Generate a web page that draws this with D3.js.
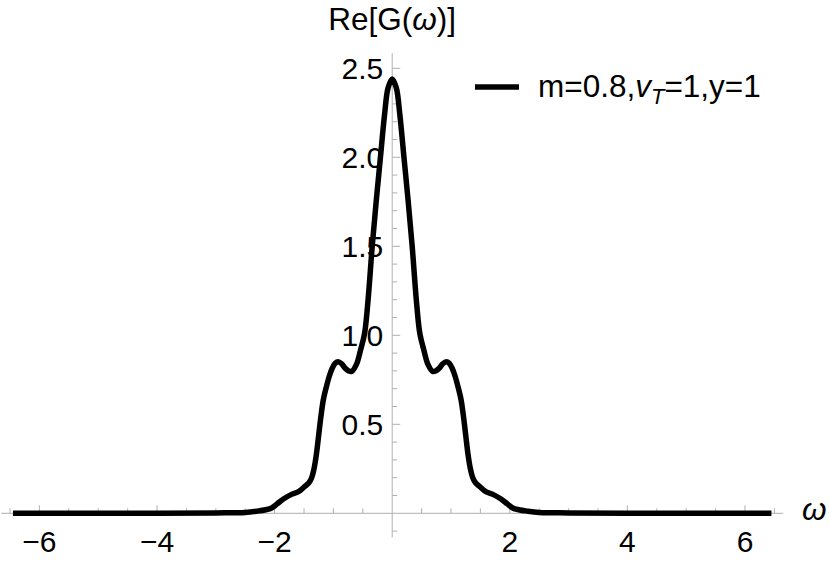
<!DOCTYPE html>
<html>
<head>
<meta charset="utf-8">
<script src="https://cdn.jsdelivr.net/npm/d3@7"></script>
<style>
  body { margin: 0; background: #fff; }
  svg { display: block; font-family: "Liberation Sans", Arial, sans-serif; }
</style>
</head>
<body>
<div id="chart"></div>
<script>
// omega values and Re[G(omega)]
const omega = [-6.45, -4.0, -3.0, -2.5, -2.3, -2.15, -2.05, -1.95, -1.85, -1.72, -1.6, -1.49, -1.42, -1.37,
  -1.33, -1.29, -1.25, -1.21, -1.17, -1.12, -1.07, -1.02, -0.97, -0.92, -0.86, -0.8, -0.74, -0.69, -0.61,
  -0.54, -0.47, -0.41, -0.34, -0.27, -0.2, -0.13, -0.07, 0,
  0.07, 0.13, 0.2, 0.27, 0.34, 0.41, 0.47, 0.54, 0.61, 0.69, 0.74, 0.8, 0.86, 0.92, 0.97, 1.02, 1.07,
  1.12, 1.17, 1.21, 1.25, 1.29, 1.33, 1.37, 1.42, 1.49, 1.6, 1.72, 1.85, 1.95, 2.05, 2.15, 2.3,
  2.5, 3.0, 4.0, 6.45];
const reG = [0, 0, 0.002, 0.005, 0.012, 0.02, 0.03, 0.055, 0.08, 0.105, 0.12, 0.15, 0.17, 0.2,
  0.25, 0.33, 0.44, 0.55, 0.64, 0.71, 0.77, 0.815, 0.843, 0.852, 0.84, 0.815, 0.8, 0.797, 0.835,
  0.915, 1.01, 1.2, 1.5, 1.76, 2.0, 2.24, 2.39, 2.44,
  2.39, 2.24, 2.0, 1.76, 1.5, 1.2, 1.01, 0.915, 0.835, 0.797, 0.8, 0.815, 0.84, 0.852, 0.843, 0.815, 0.77,
  0.71, 0.64, 0.55, 0.44, 0.33, 0.25, 0.2, 0.17, 0.15, 0.12, 0.105, 0.08, 0.055, 0.03, 0.02, 0.012,
  0.005, 0.002, 0, 0];

const xMajor = [-6, -4, -2, 2, 4, 6];
const xMinor = d3.range(-13, 14).map(d => d / 2);
const yMajor = [0.5, 1.0, 1.5, 2.0, 2.5];
const yMinor = d3.range(-1, 26).map(d => d / 10);
const legendLabel = { pre: "m=0.8,", v: "v", sub: "T", post: "=1,y=1" };

const width = 830, height = 561;
const axisColor = "#b0b0b0";
const fontSize = 30;

const svg = d3.select("#chart").append("svg")
    .attr("width", width)
    .attr("height", height);

const x = d3.scaleLinear().domain([-6.65, 6.65]).range([1.2, 783.2]);
const y = d3.scaleLinear().domain([0, 2.5]).range([513.3, 68.3]);

// axes lines
svg.append("line")
    .attr("x1", x(-6.65)).attr("x2", x(6.65))
    .attr("y1", y(0)).attr("y2", y(0))
    .attr("stroke", axisColor).attr("stroke-width", 1);
svg.append("line")
    .attr("x1", x(0)).attr("x2", x(0))
    .attr("y1", y(-0.135)).attr("y2", y(2.585))
    .attr("stroke", axisColor).attr("stroke-width", 1);

// x ticks (pointing up into the plot)
svg.append("g").selectAll("line")
    .data(xMinor.filter(d => d !== 0))
    .join("line")
    .attr("x1", d => x(d)).attr("x2", d => x(d))
    .attr("y1", y(0))
    .attr("y2", d => y(0) - (d % 2 === 0 ? 8 : 5))
    .attr("stroke", axisColor).attr("stroke-width", 1);

// y ticks (pointing right)
svg.append("g").selectAll("line")
    .data(yMinor.filter(d => Math.abs(d) > 1e-9))
    .join("line")
    .attr("x1", x(0))
    .attr("x2", d => x(0) + (Math.abs(d * 2 - Math.round(d * 2)) < 1e-6 ? 8 : 5))
    .attr("y1", d => y(d)).attr("y2", d => y(d))
    .attr("stroke", axisColor).attr("stroke-width", 1);

// tick labels
svg.append("g").selectAll("text")
    .data(xMajor)
    .join("text")
    .attr("x", d => x(d))
    .attr("y", 551.5)
    .attr("text-anchor", "middle")
    .style("font-size", fontSize + "px")
    .text(d => d < 0 ? "\u2212" + Math.abs(d) : d);

svg.append("g").selectAll("text")
    .data(yMajor)
    .join("text")
    .attr("x", x(0) - 9)
    .attr("y", d => y(d) + 10.7)
    .attr("text-anchor", "end")
    .style("font-size", fontSize + "px")
    .text(d => d.toFixed(1));

// axis labels
svg.append("text")
    .attr("x", x(0))
    .attr("y", 29.5)
    .attr("text-anchor", "middle")
    .style("font-size", "31.5px")
    .html('Re[G(<tspan font-style="italic">\u03c9</tspan>)]');

svg.append("text")
    .attr("x", 802)
    .attr("y", 520)
    .style("font-size", "31.5px")
    .style("font-style", "italic")
    .text("\u03c9");

// curve
const line = d3.line()
    .x((d, i) => x(omega[i]))
    .y(d => y(d))
    .curve(d3.curveCatmullRom.alpha(0.5));

svg.append("path")
    .datum(reG)
    .attr("fill", "none")
    .attr("stroke", "#000")
    .attr("stroke-width", 5.5)
    .attr("stroke-linejoin", "round")
    .attr("d", line);

// legend
const legend = svg.append("g");
legend.append("line")
    .attr("x1", 475).attr("x2", 519)
    .attr("y1", 87).attr("y2", 87)
    .attr("stroke", "#000").attr("stroke-width", 5.5);
const lt = legend.append("text")
    .attr("x", 538)
    .attr("y", 97)
    .style("font-size", "31.5px");
lt.append("tspan").text(legendLabel.pre);
lt.append("tspan").style("font-style", "italic").text(legendLabel.v);
lt.append("tspan").style("font-style", "italic").style("font-size", "22px")
    .attr("dy", 7).text(legendLabel.sub);
lt.append("tspan").attr("dy", -7).text(legendLabel.post);
</script>
</body>
</html>
